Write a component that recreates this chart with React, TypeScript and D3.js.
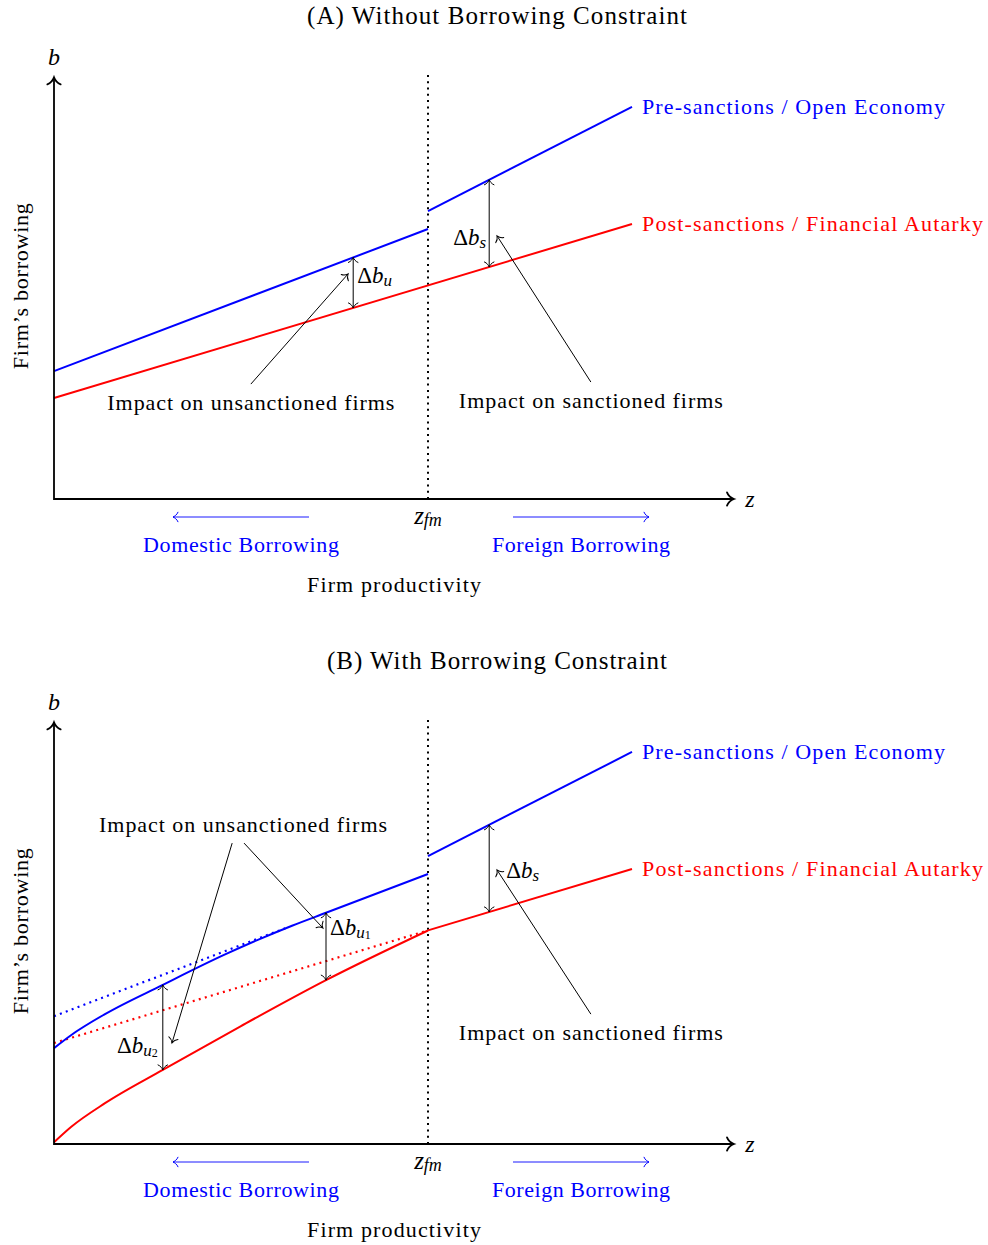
import * as d3 from 'd3';

const W = 988;
const H = 1245;
const PANEL_SHIFT = 645;

// model units: z on the horizontal axis, b on the vertical one
const Z_FM = 11;
const Z_END = 17;
const Z_MAX = 20;
const B_TOP = 12.4;

// straight schedules as [z, b]
const preLow = [[0, 3.76], [Z_FM, 7.94]];
const preHigh = [[Z_FM, 8.47], [Z_END, 11.53]];
const postLine = [[0, 2.97], [Z_END, 8.09]];

// panel B, constrained schedules left of z_fm
const preConstrZ = [0, 0.5, 1.5, 3.2, 5, 7, 8, 11];
const preConstrB = [2.82, 3.2, 3.82, 4.68, 5.56, 6.42, 6.8, 7.94];
const postConstrZ = [0, 0.5, 1.5, 3.2, 5.5, 8, 11];
const postConstrB = [0.05, 0.5, 1.2, 2.18, 3.47, 4.82, 6.28];
const preDottedEnd = 6.8;

// where the gap arrows sit
const gapA = { u: 8.8, s: 12.8 };
const gapB = { u1: 8, u2: 3.2, s: 12.8 };

// annotation pointers, [z, b]
const pointersA = [
  { from: [5.79, 3.38], to: [8.65, 6.62] },
  { from: [15.79, 3.44], to: [13.03, 7.74] },
];
const pointersB = [
  { from: [5.24, 8.85], to: [3.47, 2.97] },
  { from: [5.59, 8.85], to: [7.91, 6.35] },
  { from: [15.79, 3.82], to: [13.03, 8.06] },
];

const BLUE = '#0000ff';
const RED = '#ff0000';
const FONT = '"Liberation Serif", "Times New Roman", serif';
const DOTS = '2 4.3';

const at = (pts: number[][], z: number) => {
  const [[z0, b0], [z1, b1]] = pts;
  return b0 + ((b1 - b0) * (z - z0)) / (z1 - z0);
};

function Label({ x, y, w, size = 22, fill = '#000', anchor = 'middle', children }: any) {
  return (
    <text
      x={x}
      y={y}
      fill={fill}
      fontSize={size}
      fontFamily={FONT}
      textAnchor={anchor}
      dominantBaseline="central"
      textLength={w}
      lengthAdjust={w ? 'spacing' : undefined}
    >
      {children}
    </text>
  );
}

function Delta({ x, y, sub, subsub, anchor = 'start' }: any) {
  return (
    <text x={x} y={y} fontSize={23} fontFamily={FONT} textAnchor={anchor} dominantBaseline="central">
      <tspan>Δ</tspan>
      <tspan fontStyle="italic">b</tspan>
      <tspan fontStyle="italic" fontSize={17} dy={5}>{sub}</tspan>
      {subsub && <tspan fontSize={12} dy={3}>{subsub}</tspan>}
    </text>
  );
}

function Panel({ variant, top }: { variant: 'A' | 'B'; top: number }) {
  const x = d3.scaleLinear().domain([0, Z_MAX]).range([54, 734]);
  const y = d3.scaleLinear().domain([0, 12.5]).range([499 + top, 74 + top]);
  const line = d3.line<number[]>().x(d => x(d[0])).y(d => y(d[1]));
  const curve = d3.line<number[]>().x(d => x(d[0])).y(d => y(d[1])).curve(d3.curveMonotoneX);

  const preCurve = preConstrZ.map((z, i) => [z, preConstrB[i]]);
  const postCurve = postConstrZ.map((z, i) => [z, postConstrB[i]]);
  const preAt = (z: number) => preConstrB[preConstrZ.indexOf(z)];
  const postAt = (z: number) => postConstrB[postConstrZ.indexOf(z)];

  const gaps =
    variant === 'A'
      ? [
          { z: gapA.u, hi: at(preLow, gapA.u), lo: at(postLine, gapA.u) },
          { z: gapA.s, hi: at(preHigh, gapA.s), lo: at(postLine, gapA.s) },
        ]
      : [
          { z: gapB.u1, hi: preAt(gapB.u1), lo: postAt(gapB.u1) },
          { z: gapB.u2, hi: preAt(gapB.u2), lo: postAt(gapB.u2) },
          { z: gapB.s, hi: at(preHigh, gapB.s), lo: at(postLine, gapB.s) },
        ];
  const pointers = variant === 'A' ? pointersA : pointersB;
  const y0 = y(0);

  return (
    <g>
      <Label x={497} y={15 + top} size={25} w={variant === 'A' ? 380 : 340}>
        {variant === 'A' ? '(A) Without Borrowing Constraint' : '(B) With Borrowing Constraint'}
      </Label>

      {/* threshold */}
      <line x1={x(Z_FM)} x2={x(Z_FM)} y1={y0} y2={y(12.55)} stroke="#000" strokeWidth={2}
        strokeDasharray={DOTS} />

      {/* schedules */}
      {variant === 'A' ? (
        <>
          <path d={line(preLow)!} fill="none" stroke={BLUE} strokeWidth={2} />
          <path d={line(postLine)!} fill="none" stroke={RED} strokeWidth={2} />
        </>
      ) : (
        <>
          <path d={line([preLow[0], [preDottedEnd, at(preLow, preDottedEnd)]])!} fill="none" stroke={BLUE}
            strokeWidth={2.2} strokeDasharray={DOTS} />
          <path d={line([postLine[0], [Z_FM, at(postLine, Z_FM)]])!} fill="none" stroke={RED}
            strokeWidth={2.2} strokeDasharray={DOTS} />
          <path d={curve(preCurve)!} fill="none" stroke={BLUE} strokeWidth={2} />
          <path d={curve(postCurve)!} fill="none" stroke={RED} strokeWidth={2} />
          <path d={line([[Z_FM, at(postLine, Z_FM)], postLine[1]])!} fill="none" stroke={RED} strokeWidth={2} />
        </>
      )}
      <path d={line(preHigh)!} fill="none" stroke={BLUE} strokeWidth={2} />

      {/* axes */}
      <path d={`M${x(0)},${y(B_TOP)} L${x(0)},${y0} L${x(Z_MAX)},${y0}`} fill="none" stroke="#000"
        strokeWidth={1.8} markerStart="url(#tipAxis)" markerEnd="url(#tipAxis)" />
      <text x={x(0)} y={y(B_TOP) - 20} fontSize={24} fontFamily={FONT} fontStyle="italic"
        textAnchor="middle" dominantBaseline="central">b</text>
      <text x={x(Z_MAX) + 16} y={y0} fontSize={24} fontFamily={FONT} fontStyle="italic"
        textAnchor="middle" dominantBaseline="central">z</text>
      <text x={x(Z_FM)} y={y0 + 16} fontSize={25} fontFamily={FONT} fontStyle="italic"
        textAnchor="middle" dominantBaseline="central">
        <tspan>z</tspan>
        <tspan fontSize={18} dy={5}>fm</tspan>
      </text>

      <text transform={`translate(20,${(y0 + y(B_TOP)) / 2 - 2}) rotate(-90)`} fontSize={22} fontFamily={FONT}
        textAnchor="middle" dominantBaseline="central" textLength={166} lengthAdjust="spacing">
        Firm’s borrowing
      </text>

      {/* domestic / foreign */}
      <line x1={x(7.5)} x2={x(3.5)} y1={y0 + 18} y2={y0 + 18} stroke={BLUE} strokeWidth={0.9}
        markerEnd="url(#tipBlue)" />
      <line x1={x(13.5)} x2={x(17.5)} y1={y0 + 18} y2={y0 + 18} stroke={BLUE} strokeWidth={0.9}
        markerEnd="url(#tipBlue)" />
      <Label x={x(5.5)} y={y0 + 45} w={196} fill={BLUE}>Domestic Borrowing</Label>
      <Label x={x(15.5)} y={y0 + 45} w={178} fill={BLUE}>Foreign Borrowing</Label>
      <Label x={x(10)} y={y0 + 85} w={174}>Firm productivity</Label>

      {/* legend at the line ends */}
      <Label x={x(Z_END) + 10} y={y(preHigh[1][1])} w={303} fill={BLUE} anchor="start">
        Pre-sanctions / Open Economy
      </Label>
      <Label x={x(Z_END) + 10} y={y(postLine[1][1])} w={341} fill={RED} anchor="start">
        Post-sanctions / Financial Autarky
      </Label>

      {/* gap arrows */}
      {gaps.map((g, i) => (
        <line key={i} x1={x(g.z)} x2={x(g.z)} y1={y(g.lo)} y2={y(g.hi)} stroke="#000" strokeWidth={1}
          markerStart="url(#tipThin)" markerEnd="url(#tipThin)" />
      ))}
      {variant === 'A' ? (
        <>
          <Delta x={x(gapA.u) + 4} y={y(6.59)} sub="u" />
          <Delta x={x(gapA.s) - 3} y={y(7.71)} sub="s" anchor="end" />
        </>
      ) : (
        <>
          <Delta x={x(gapB.u1) + 4} y={y(6.38)} sub="u" subsub="1" />
          <Delta x={x(gapB.u2) - 5} y={y(2.91)} sub="u" subsub="2" anchor="end" />
          <Delta x={x(gapB.s) + 17} y={y(8.06)} sub="s" />
        </>
      )}

      {/* pointers */}
      {pointers.map((p, i) => (
        <line key={i} x1={x(p.from[0])} y1={y(p.from[1])} x2={x(p.to[0])} y2={y(p.to[1])} stroke="#000"
          strokeWidth={1} markerEnd="url(#tipThin)" />
      ))}
      {variant === 'A' ? (
        <>
          <Label x={x(5.79)} y={y(2.85)} w={287}>Impact on unsanctioned firms</Label>
          <Label x={x(15.79)} y={y(2.91)} w={264}>Impact on sanctioned firms</Label>
        </>
      ) : (
        <>
          <Label x={x(5.56)} y={y(9.41)} w={288}>Impact on unsanctioned firms</Label>
          <Label x={x(15.79)} y={y(3.29)} w={264}>Impact on sanctioned firms</Label>
        </>
      )}
    </g>
  );
}

function Tip({ id, color, size, width }: { id: string; color: string; size: number; width: number }) {
  const h = size * 0.95;
  return (
    <marker id={id} viewBox={`${-size - 2} ${-h - 2} ${size + 4} ${2 * h + 4}`} markerWidth={size + 4}
      markerHeight={2 * h + 4} refX={0} refY={0} orient="auto-start-reverse" markerUnits="userSpaceOnUse"
      overflow="visible">
      <path d={`M${-size},${-h} C${-size * 0.8},${-h * 0.45} ${-size * 0.25},${-h * 0.1} 0,0 C${-size * 0.25},${h * 0.1} ${-size * 0.8},${h * 0.45} ${-size},${h}`}
        fill="none" stroke={color} strokeWidth={width} strokeLinecap="round" />
    </marker>
  );
}

export default function App() {
  return (
    <>
      <style>{`body{margin:0}`}</style>
      <svg width={W} height={H} style={{ display: 'block', background: '#fff' }}>
        <defs>
          <Tip id="tipAxis" color="#000" size={7} width={1.8} />
          <Tip id="tipThin" color="#000" size={5} width={1} />
          <Tip id="tipBlue" color={BLUE} size={5} width={1} />
        </defs>
        <Panel variant="A" top={0} />
        <Panel variant="B" top={PANEL_SHIFT} />
      </svg>
    </>
  );
}
